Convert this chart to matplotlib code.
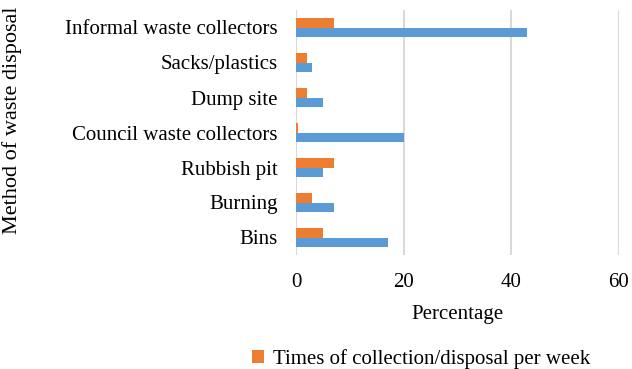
import numpy as np
import matplotlib.pyplot as plt

plt.rcParams['font.family'] = ['Liberation Serif', 'DejaVu Serif']

# Methods listed bottom to top
methods = ['Bins', 'Burning', 'Rubbish pit', 'Council waste collectors',
           'Dump site', 'Sacks/plastics', 'Informal waste collectors']
percentage = [17, 7, 5, 20, 5, 3, 43]
times_per_week = [5, 3, 7, 0.3, 2, 2, 7]

blue = '#5B9BD5'
orange = '#ED7D31'
fs = 15

fig = plt.figure(figsize=(6.32, 3.69), dpi=100)
ax = fig.add_axes([296 / 632, 1 - 255 / 369, (619 - 296) / 632, 245 / 369])

y = np.arange(len(methods))
h = 0.27
ax.barh(y - h / 2, percentage, height=h, color=blue, label='Percentage', zorder=3)
ax.barh(y + h / 2, times_per_week, height=h, color=orange,
        label='Times of collection/disposal per week', zorder=3)

ax.set_xlim(0, 60)
ax.set_ylim(-0.5, len(methods) - 0.5)
ax.set_xticks([0, 20, 40, 60])
ax.set_yticks(y)
ax.set_yticklabels(methods)
ax.tick_params(axis='both', length=0, labelsize=fs, colors='#000000')
ax.tick_params(axis='x', pad=13)
ax.tick_params(axis='y', pad=13)
ax.grid(axis='x', color='#d9d9d9', linewidth=1.5, zorder=0)
for s in ax.spines.values():
    s.set_visible(False)

ax.set_xlabel('Percentage', fontsize=fs, labelpad=9)
ax.set_ylabel('Method of waste disposal', fontsize=16)
ax.yaxis.set_label_coords(-(296 - 22) / 323, (255 - 120) / 245)

handles, labels = ax.get_legend_handles_labels()
fig.legend([handles[1]], [labels[1]], loc='center left',
           bbox_to_anchor=(233 / 632, 1 - 359 / 369), frameon=False,
           fontsize=fs, handlelength=0.6, handleheight=0.6, handletextpad=0.4)

fig.savefig('out.png', dpi=100)
